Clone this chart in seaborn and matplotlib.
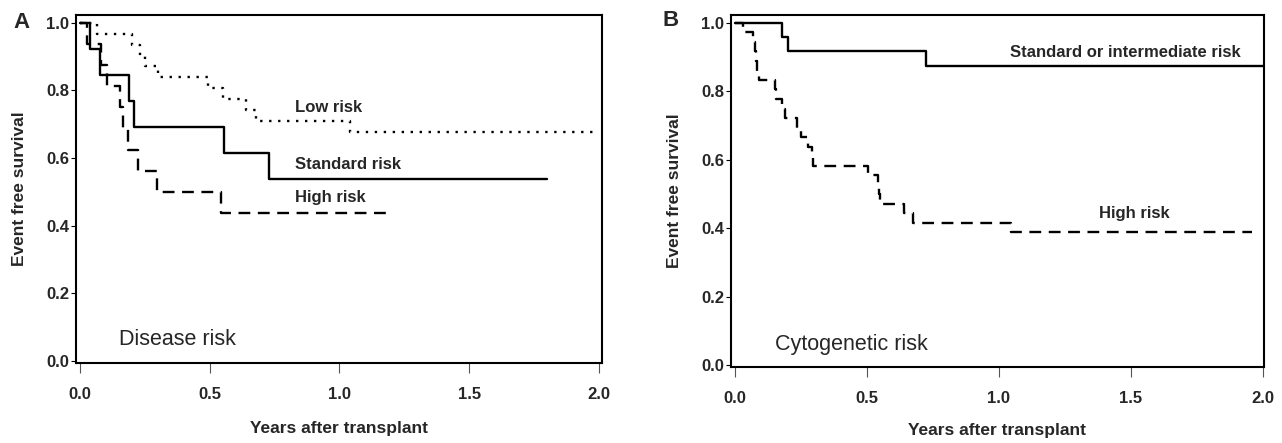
import matplotlib
matplotlib.use('agg')
import matplotlib.pyplot as plt
import seaborn as sns
import pandas as pd

# Panel A - disease risk (Kaplan-Meier steps)
a_low_years = [0, 0.065, 0.20, 0.23, 0.25, 0.30, 0.495, 0.55, 0.64, 0.68, 1.04, 2.0]
a_low_efs = [1.0, 0.968, 0.935, 0.903, 0.871, 0.839, 0.806, 0.774, 0.742, 0.710, 0.677, 0.677]
a_std_years = [0, 0.04, 0.077, 0.19, 0.21, 0.555, 0.73, 1.80]
a_std_efs = [1.0, 0.923, 0.846, 0.769, 0.692, 0.615, 0.538, 0.538]
a_high_years = [0, 0.027, 0.08, 0.105, 0.155, 0.165, 0.185, 0.225, 0.295, 0.545, 1.20]
a_high_efs = [1.0, 0.9375, 0.875, 0.8125, 0.75, 0.6875, 0.625, 0.5625, 0.5, 0.4375, 0.4375]

# Panel B - cytogenetic risk
b_std_years = [0, 0.18, 0.20, 0.725, 2.0]
b_std_efs = [1.0, 0.958, 0.917, 0.875, 0.875]
b_high_years = [0, 0.03, 0.07, 0.075, 0.08, 0.085, 0.09, 0.15, 0.155, 0.18, 0.19, 0.235,
                0.25, 0.275, 0.29, 0.295, 0.505, 0.54, 0.545, 0.55, 0.64, 0.675, 1.045, 1.96]
b_high_efs = [1.0, 0.972, 0.944, 0.917, 0.889, 0.861, 0.833, 0.806, 0.778, 0.75, 0.722, 0.694,
              0.667, 0.639, 0.611, 0.583, 0.556, 0.528, 0.5, 0.472, 0.444, 0.417, 0.39, 0.39]

x_ticks = [0.0, 0.5, 1.0, 1.5, 2.0]
y_ticks = [0.0, 0.2, 0.4, 0.6, 0.8, 1.0]
tick_labels_x = ["0.0", "0.5", "1.0", "1.5", "2.0"]
tick_labels_y = ["0.0", "0.2", "0.4", "0.6", "0.8", "1.0"]

SOLID = '-'
DASHED = (0, (5.0, 3.2))
DOTTED = (0, (1.0, 2.8))

sns.set_style("white")
plt.rcParams['font.family'] = ['Liberation Sans', 'DejaVu Sans']


def draw_curve(ax, years, efs, ls):
	df = pd.DataFrame({'years': years, 'efs': efs})
	sns.lineplot(data=df, x='years', y='efs', ax=ax, color='black', lw=1.7,
	             linestyle=ls, drawstyle='steps-post', estimator=None, sort=False)


def style_axes(ax, xlim, ylim):
	ax.set_xlim(*xlim)
	ax.set_ylim(*ylim)
	ax.set_xticks(x_ticks)
	ax.set_xticklabels(tick_labels_x, fontsize=12, fontweight='bold')
	ax.set_yticks(y_ticks)
	ax.set_yticklabels(tick_labels_y, fontsize=12, fontweight='bold')
	ax.tick_params(axis='x', length=7, width=0.8, color='#555555', pad=10, direction='out', bottom=True)
	ax.tick_params(axis='y', length=3.5, width=0.8, color='black', pad=1.5, direction='out', left=True)
	for sp in ax.spines.values():
		sp.set_visible(True)
		sp.set_color('black')
		sp.set_linewidth(1.5)
	ax.set_xlabel("Years after transplant", fontsize=12.5, fontweight='bold')
	ax.set_ylabel("Event free survival", fontsize=12.5, fontweight='bold')


fig = plt.figure(figsize=(12.82, 4.43), dpi=100)
axA = fig.add_axes([76/1282, (443-363)/443, (602-76)/1282, (363-15)/443])
axB = fig.add_axes([731/1282, (443-367)/443, (1264-731)/1282, (367-15)/443])

draw_curve(axA, a_low_years, a_low_efs, DOTTED)
draw_curve(axA, a_std_years, a_std_efs, SOLID)
draw_curve(axA, a_high_years, a_high_efs, DASHED)
style_axes(axA, (-0.0154, 2.0116), (-0.006, 1.0228))
axA.xaxis.set_label_coords(0.5, -0.167)
axA.yaxis.set_label_coords(-0.093, 0.5)
axA.text(0.83, 0.748, "Low risk", fontsize=12, fontweight='bold', va='center')
axA.text(0.83, 0.582, "Standard risk", fontsize=12, fontweight='bold', va='center')
axA.text(0.83, 0.482, "High risk", fontsize=12, fontweight='bold', va='center')
axA.text(0.15, 0.064, "Disease risk", fontsize=15.5, va='center')

draw_curve(axB, b_std_years, b_std_efs, SOLID)
draw_curve(axB, b_high_years, b_high_efs, DASHED)
style_axes(axB, (-0.015, 2.004), (-0.0044, 1.023))
axB.xaxis.set_label_coords(0.5, -0.159)
axB.yaxis.set_label_coords(-0.092, 0.5)
axB.text(1.042, 0.915, "Standard or intermediate risk", fontsize=12, fontweight='bold', va='center')
axB.text(1.379, 0.445, "High risk", fontsize=12, fontweight='bold', va='center')
axB.text(0.152, 0.06, "Cytogenetic risk", fontsize=15.5, va='center')

fig.text(22/1282, 1 - 22/443, "A", fontsize=16, fontweight='bold', ha='center', va='center')
fig.text(671/1282, 1 - 21/443, "B", fontsize=16, fontweight='bold', ha='center', va='center')

fig.savefig("out.png", dpi=100)
